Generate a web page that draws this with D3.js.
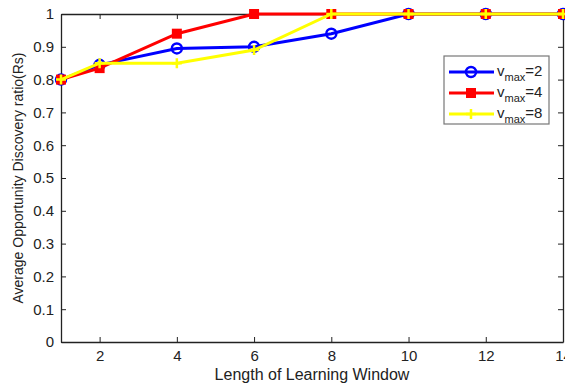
<!DOCTYPE html>
<html>
<head>
<script src="https://cdnjs.cloudflare.com/ajax/libs/d3/7.8.5/d3.min.js"></script>
<style>
  html, body { margin: 0; padding: 0; background: #fff; }
  svg { display: block; font-family: "Liberation Sans", Arial, sans-serif; }
</style>
</head>
<body>
<div id="chart"></div>
<script>
  const windowLength = [1, 2, 4, 6, 8, 10, 12, 14];
  const vmax2 = [0.80, 0.845, 0.895, 0.90, 0.94, 1, 1, 1];
  const vmax4 = [0.80, 0.835, 0.94, 1, 1, 1, 1, 1];
  const vmax8 = [0.80, 0.85, 0.85, 0.89, 1, 1, 1, 1];
  const xTicks = [2, 4, 6, 8, 10, 12, 14];
  const yTicks = [0, 0.1, 0.2, 0.3, 0.4, 0.5, 0.6, 0.7, 0.8, 0.9, 1];

  const series = [
    { name: "2", values: vmax2, color: "#0000ff", marker: "circle" },
    { name: "4", values: vmax4, color: "#ff0000", marker: "square" },
    { name: "8", values: vmax8, color: "#ffff00", marker: "plus" }
  ];

  const W = 565, H = 384;
  const plotL = 61, plotR = 563, plotT = 14, plotB = 342;

  const svg = d3.select("#chart").append("svg")
    .attr("width", W).attr("height", H);

  const x = d3.scaleLinear().domain([1, 14]).range([plotL, plotR]);
  const y = d3.scaleLinear().domain([0, 1]).range([plotB, plotT]);

  // axes box with inward ticks
  svg.append("g")
    .attr("transform", `translate(0,${plotB})`)
    .call(d3.axisBottom(x).tickValues(xTicks).tickSizeInner(-5).tickSizeOuter(0).tickPadding(8))
    .call(g => g.selectAll("text").style("font-size", "15px").attr("fill", "#222"));
  svg.append("g")
    .attr("transform", `translate(0,${plotT})`)
    .call(d3.axisTop(x).tickValues(xTicks).tickSizeInner(-5).tickSizeOuter(0).tickFormat(""));
  svg.append("g")
    .attr("transform", `translate(${plotL},0)`)
    .call(d3.axisLeft(y).tickValues(yTicks).tickSizeInner(-5).tickSizeOuter(0).tickPadding(7)
      .tickFormat(d => d === 0 || d === 1 ? String(d) : d3.format(".1f")(d)))
    .call(g => g.selectAll("text").style("font-size", "15px").attr("fill", "#222"));
  svg.append("g")
    .attr("transform", `translate(${plotR},0)`)
    .call(d3.axisRight(y).tickValues(yTicks).tickSizeInner(-5).tickSizeOuter(0).tickFormat(""));
  svg.selectAll(".domain").attr("stroke", "#222").attr("stroke-width", 1.3);
  svg.selectAll(".tick line").attr("stroke", "#222");

  const line = d3.line().x((d, i) => x(windowLength[i])).y(d => y(d));

  function drawMarker(g, type, color, cx, cy) {
    if (type === "circle") {
      g.append("circle").attr("cx", cx).attr("cy", cy).attr("r", 5)
        .attr("fill", "none").attr("stroke", color).attr("stroke-width", 2.5);
    } else if (type === "square") {
      g.append("rect").attr("x", cx - 5).attr("y", cy - 5).attr("width", 10).attr("height", 10)
        .attr("fill", color);
    } else {
      g.append("path").attr("d", `M${cx - 5},${cy}H${cx + 5}M${cx},${cy - 5}V${cy + 5}`)
        .attr("stroke", color).attr("stroke-width", 2.5);
    }
  }

  series.forEach(s => {
    const g = svg.append("g");
    g.append("path").datum(s.values).attr("d", line)
      .attr("fill", "none").attr("stroke", s.color).attr("stroke-width", 3);
    s.values.forEach((v, i) => drawMarker(g, s.marker, s.color, x(windowLength[i]), y(v)));
  });

  // legend
  const lg = svg.append("g");
  lg.append("rect").attr("x", 444).attr("y", 56).attr("width", 105).attr("height", 68)
    .attr("fill", "#fff").attr("stroke", "#777").attr("stroke-width", 1.2);
  series.forEach((s, i) => {
    const ly = 72 + i * 21;
    lg.append("line").attr("x1", 449).attr("x2", 494).attr("y1", ly).attr("y2", ly)
      .attr("stroke", s.color).attr("stroke-width", 3);
    drawMarker(lg, s.marker, s.color, 471, ly);
    const t = lg.append("text").attr("x", 497).attr("y", ly + 4)
      .style("font-size", "15px").attr("fill", "#222");
    t.append("tspan").text("v");
    t.append("tspan").attr("dy", 5).style("font-size", "11px").text("max");
    t.append("tspan").attr("dy", -5).text("=" + s.name);
  });

  // axis titles
  svg.append("text").attr("x", (plotL + plotR) / 2).attr("y", 380)
    .attr("text-anchor", "middle").style("font-size", "16px").attr("fill", "#222")
    .text("Length of Learning Window");
  svg.append("text").attr("transform", `translate(23,${(plotT + plotB) / 2}) rotate(-90)`)
    .attr("text-anchor", "middle").style("font-size", "14px").attr("fill", "#222")
    .text("Average Opportunity Discovery ratio(Rs)");
</script>
</body>
</html>
